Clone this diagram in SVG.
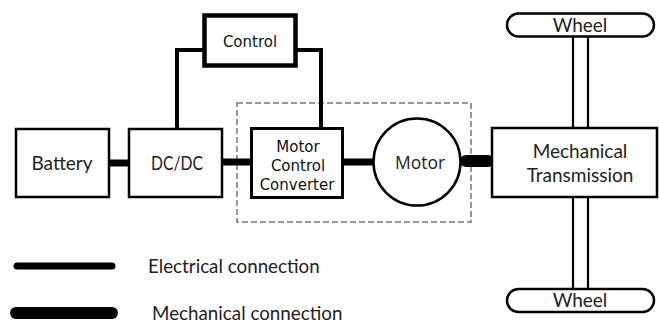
<svg xmlns="http://www.w3.org/2000/svg" width="659" height="323" viewBox="0 0 659 323">
<style>
.box{fill:#fff;stroke:#000;stroke-width:2.5}
.thick{fill:#fff;stroke:#000;stroke-width:4.5}
.el{stroke:#000;stroke-width:7;fill:none}
.ctl{stroke:#000;stroke-width:4;fill:none}
.mech{stroke:#000;stroke-width:12;fill:none;stroke-linecap:round}
.shaft{stroke:#000;stroke-width:2.2;fill:none}
.c{font-family:Lato,"Liberation Sans",sans-serif;font-size:19px;fill:#222;text-anchor:middle}
.v{font-family:"DejaVu Sans",sans-serif;font-size:15px;fill:#111;text-anchor:middle}
.l{font-family:Lato,"Liberation Sans",sans-serif;font-size:18.8px;fill:#222}
</style>
<rect x="237" y="103" width="234" height="119" fill="none" stroke="#777" stroke-width="1.5" stroke-dasharray="6,3"/>
<g id="connectors">
<path class="ctl" d="M204,50 H177 V128"/>
<path class="ctl" d="M296,50 H321 V128"/>
<line class="el" x1="110" y1="163" x2="129" y2="163"/>
<line class="el" x1="222" y1="162" x2="251" y2="162"/>
<line class="el" x1="343" y1="162" x2="374" y2="162"/>
<line class="mech" x1="466" y1="161" x2="488" y2="161"/>
<line class="shaft" x1="573" y1="37" x2="573" y2="128"/>
<line class="shaft" x1="588" y1="37" x2="588" y2="128"/>
<line class="shaft" x1="573" y1="197" x2="573" y2="289"/>
<line class="shaft" x1="588" y1="197" x2="588" y2="289"/>
</g>
<g id="control"><rect class="thick" x="204.5" y="15.5" width="91" height="50"/><text class="v" x="250" y="47">Control</text></g>
<g id="battery"><rect class="box" x="16" y="129" width="93" height="68"/><text class="c" x="62" y="170">Battery</text></g>
<g id="dcdc"><rect class="box" x="129" y="129" width="93" height="68"/><text class="c" x="177" y="170" textLength="52" lengthAdjust="spacingAndGlyphs">DC/DC</text></g>
<g id="mcc"><rect x="251.5" y="128.5" width="91" height="69" fill="#fff" stroke="#000" stroke-width="3"/><text class="v" x="298" y="152">Motor</text><text class="v" x="298" y="171">Control</text><text class="v" x="297" y="190">Converter</text></g>
<g id="motor"><circle cx="417" cy="162" r="43.5" fill="#fff" stroke="#000" stroke-width="2.5"/><text x="420" y="169" font-family="'Open Sans',sans-serif" font-size="17.5" fill="#222" text-anchor="middle">Motor</text></g>
<g id="transmission"><rect class="box" x="492" y="128" width="165" height="69"/><text class="c" x="580" y="158">Mechanical</text><text class="c" x="580" y="182">Transmission</text></g>
<g id="wheel-top"><rect class="box" x="507" y="13.5" width="147" height="23" rx="11.5"/><text class="c" x="580" y="32">Wheel</text></g>
<g id="wheel-bottom"><rect class="box" x="507" y="289" width="147" height="23" rx="11.5"/><text class="c" x="580" y="307">Wheel</text></g>
<g id="legend">
<line x1="17" y1="266" x2="112" y2="266" stroke="#000" stroke-width="7" stroke-linecap="round"/>
<text class="l" x="148" y="273">Electrical connection</text>
<line x1="16" y1="313" x2="112" y2="313" stroke="#000" stroke-width="12" stroke-linecap="round"/>
<text class="l" x="152" y="320">Mechanical connection</text>
</g>
</svg>
